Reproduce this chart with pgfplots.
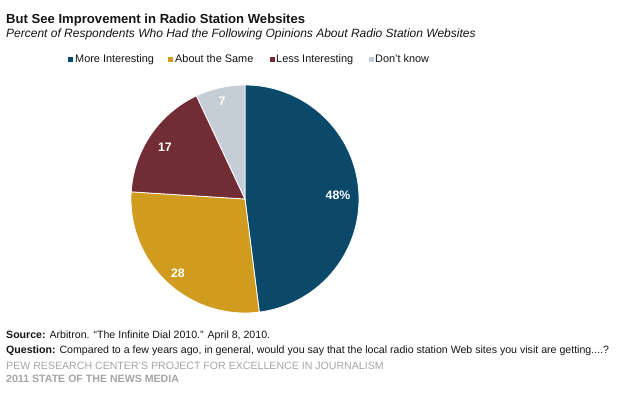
\documentclass[border=0pt]{standalone}
\usepackage{fontspec}
\setmainfont{Liberation Sans}
\usepackage{pgfplots}
\usepackage{pgfplotstable}
\pgfplotsset{compat=1.18}
\definecolor{pblue}{RGB}{11,73,107}
\definecolor{pgold}{RGB}{208,156,31}
\definecolor{pred}{RGB}{114,44,53}
\definecolor{pgray}{RGB}{197,206,214}
\definecolor{txt}{RGB}{20,20,20}
\definecolor{foot}{RGB}{165,165,165}
\pgfplotstableread{
cat value
More 48
Same 28
Less 17
DK 7
}\piedata
\begin{document}
\begin{tikzpicture}[x=1pt,y=1pt]
\path (0,0) rectangle (622,398);
\pgfplotstablegetelem{0}{value}\of\piedata \edef\vA{\pgfplotsretval}
\pgfplotstablegetelem{1}{value}\of\piedata \edef\vB{\pgfplotsretval}
\pgfplotstablegetelem{2}{value}\of\piedata \edef\vC{\pgfplotsretval}
\pgfplotstablegetelem{3}{value}\of\piedata \edef\vD{\pgfplotsretval}
\pgfmathsetmacro\aA{90}
\pgfmathsetmacro\aB{\aA-3.6*\vA}
\pgfmathsetmacro\aC{\aB-3.6*\vB}
\pgfmathsetmacro\aD{\aC-3.6*\vC}
\pgfmathsetmacro\aE{\aD-3.6*\vD}
\begin{axis}[at={(0,0)},anchor=south west,width=622pt,height=398pt,scale only axis,
  xmin=0,xmax=622,ymin=0,ymax=398,hide axis,clip=false]
\addplot[draw=white,line width=0.8pt,fill=pblue,domain=\aB:\aA,samples=90,variable=\t]
  ({245+114*cos(\t)},{199+114*sin(\t)}) -- (245,199) -- cycle;
\addplot[draw=white,line width=0.8pt,fill=pgold,domain=\aC:\aB,samples=60,variable=\t]
  ({245+114*cos(\t)},{199+114*sin(\t)}) -- (245,199) -- cycle;
\addplot[draw=white,line width=0.8pt,fill=pred,domain=\aD:\aC,samples=40,variable=\t]
  ({245+114*cos(\t)},{199+114*sin(\t)}) -- (245,199) -- cycle;
\addplot[draw=white,line width=0.8pt,fill=pgray,domain=\aE:\aD,samples=20,variable=\t]
  ({245+114*cos(\t)},{199+114*sin(\t)}) -- (245,199) -- cycle;
\end{axis}
\begin{scope}[every node/.style={text=white,font=\fontsize{12.3}{14}\selectfont\bfseries}]
\node at (338,203) {\vA\%};
\node at (178,125) {\vB};
\node at (165,251) {\vC};
\node at (222,297) {\vD};
\end{scope}
% titles
\node[anchor=base west,inner sep=0,text=txt,font=\fontsize{13.1}{15}\selectfont\bfseries] at (6,374.5) {But See Improvement in Radio Station Websites};
\node[anchor=base west,inner sep=0,text=txt,font=\fontsize{12}{14}\selectfont\itshape] at (6,360.7) {Percent of Respondents Who Had the Following Opinions About Radio Station Websites};
% legend
\begin{scope}[every node/.style={anchor=base west,inner sep=0,text=txt,font=\fontsize{10.9}{12}\selectfont}]
\fill[pblue] (68,336) rectangle +(4.5,4.5); \node at (75,335) {More Interesting};
\fill[pgold] (168,336) rectangle +(4.5,4.5); \node at (175,335) {About the Same};
\fill[pred] (270,336) rectangle +(4.5,4.5); \node at (276,335) {Less Interesting};
\fill[pgray] (369,336) rectangle +(4.5,4.5); \node at (375,335) {Don't know};
\end{scope}
% footer
\begin{scope}[every node/.style={anchor=base west,inner sep=0,font=\fontsize{10.6}{12}\selectfont}]
\node[text=txt] at (6,59.7) {\textbf{Source:} Arbitron. “The Infinite Dial 2010.” April 8, 2010.};
\node[text=txt] at (6,44.7) {\textbf{Question:} Compared to a few years ago, in general, would you say that the local radio station Web sites you visit are getting....?};
\node[text=foot] at (6,28) {PEW RESEARCH CENTER’S PROJECT FOR EXCELLENCE IN JOURNALISM};
\node[text=foot] at (6,15.7) {\textbf{2011 STATE OF THE NEWS MEDIA}};
\end{scope}
\end{tikzpicture}
\end{document}
